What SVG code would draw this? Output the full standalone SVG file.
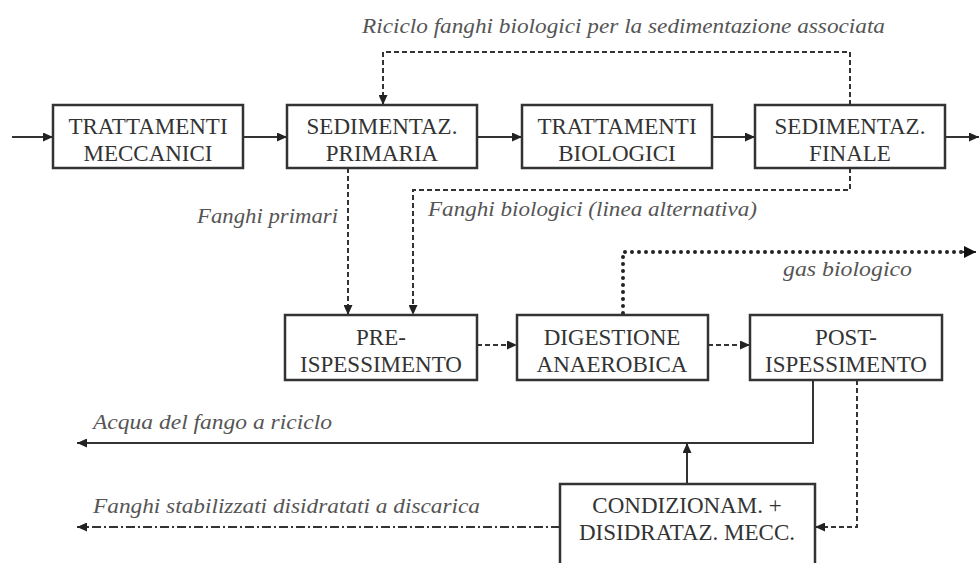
<svg xmlns="http://www.w3.org/2000/svg" width="979" height="563" viewBox="0 0 979 563">
<defs>
<style>
.box{fill:#fff;stroke:#333;stroke-width:2.5}
.bt{font-family:"Liberation Serif","Times New Roman",serif;font-size:23px;fill:#333;text-anchor:middle}
.lb{font-family:"Liberation Serif","Times New Roman",serif;font-size:22px;font-style:italic;fill:#555}
.ln{fill:none;stroke:#333;stroke-width:2}
.dash{stroke-dasharray:5 3}
.dot{stroke-width:4;stroke-linecap:round;stroke-dasharray:0 7;stroke:#222}
.dd{stroke-dasharray:9 3 2 3}
</style>
<marker id="ah" markerUnits="userSpaceOnUse" markerWidth="10" markerHeight="9" refX="10" refY="4.5" orient="auto"><path d="M0,0 L10,4.5 L0,9 z" fill="#222"/></marker>
<marker id="ahb" markerUnits="userSpaceOnUse" markerWidth="12" markerHeight="12" refX="12" refY="6" orient="auto"><path d="M0,0 L12,6 L0,12 z" fill="#111"/></marker>
</defs>
<rect width="979" height="563" fill="#fff"/>
<g id="connectors">
<path class="ln" d="M12,137 H53" marker-end="url(#ah)"/>
<path class="ln" d="M243,137 H287" marker-end="url(#ah)"/>
<path class="ln" d="M477,137 H522" marker-end="url(#ah)"/>
<path class="ln" d="M712,137 H755" marker-end="url(#ah)"/>
<path class="ln" d="M945,137 H979" marker-end="url(#ah)"/>
<path class="ln dash" d="M850,105 V52 H383 V105" marker-end="url(#ah)"/>
<path class="ln dash" d="M850,168 V190 H413 V315" marker-end="url(#ah)"/>
<path class="ln dash" d="M348,168 V315" marker-end="url(#ah)"/>
<path class="ln dash" d="M477,345 H517" marker-end="url(#ah)"/>
<path class="ln dash" d="M708,345 H750" marker-end="url(#ah)"/>
<path class="ln dot" d="M623,313 V252 H962"/>
<path class="ln" d="M960,252 H976" stroke="none" marker-end="url(#ahb)"/>
<path class="ln" d="M813,380 V443 H77" marker-end="url(#ah)"/>
<path class="ln" d="M687,484 V443" marker-end="url(#ah)"/>
<path class="ln dash" d="M857,380 V527 H815" marker-end="url(#ah)"/>
<path class="ln dd" d="M560,527 H77" marker-end="url(#ah)"/>
</g>
<g id="labels">
<text class="lb" x="362" y="33" textLength="523" lengthAdjust="spacingAndGlyphs">Riciclo fanghi biologici per la sedimentazione associata</text>
<text class="lb" x="428" y="216" textLength="329" lengthAdjust="spacingAndGlyphs">Fanghi biologici (linea alternativa)</text>
<text class="lb" x="197" y="223" textLength="141" lengthAdjust="spacingAndGlyphs">Fanghi primari</text>
<text class="lb" x="783" y="276" textLength="129" lengthAdjust="spacingAndGlyphs">gas biologico</text>
<text class="lb" x="93" y="429" textLength="239" lengthAdjust="spacingAndGlyphs">Acqua del fango a riciclo</text>
<text class="lb" x="93" y="513" textLength="387" lengthAdjust="spacingAndGlyphs">Fanghi stabilizzati disidratati a discarica</text>
</g>
<g id="n-mecc"><rect class="box" x="53" y="105" width="190" height="63"/><text class="bt" x="148" y="134">TRATTAMENTI</text><text class="bt" x="148" y="161">MECCANICI</text></g>
<g id="n-sedprim"><rect class="box" x="287" y="105" width="190" height="63"/><text class="bt" x="382" y="134">SEDIMENTAZ.</text><text class="bt" x="382" y="161">PRIMARIA</text></g>
<g id="n-bio"><rect class="box" x="522" y="105" width="190" height="63"/><text class="bt" x="617" y="134">TRATTAMENTI</text><text class="bt" x="617" y="161">BIOLOGICI</text></g>
<g id="n-sedfin"><rect class="box" x="755" y="105" width="190" height="63"/><text class="bt" x="850" y="134">SEDIMENTAZ.</text><text class="bt" x="850" y="161">FINALE</text></g>
<g id="n-pre"><rect class="box" x="285" y="315" width="192" height="65"/><text class="bt" x="381" y="345">PRE-</text><text class="bt" x="381" y="372">ISPESSIMENTO</text></g>
<g id="n-dig"><rect class="box" x="517" y="315" width="191" height="65"/><text class="bt" x="612" y="345">DIGESTIONE</text><text class="bt" x="612" y="372">ANAEROBICA</text></g>
<g id="n-post"><rect class="box" x="750" y="315" width="192" height="65"/><text class="bt" x="846" y="345">POST-</text><text class="bt" x="846" y="372">ISPESSIMENTO</text></g>
<g id="n-cond"><rect class="box" x="560" y="484" width="255" height="90"/><text class="bt" x="687" y="513">CONDIZIONAM. +</text><text class="bt" x="687" y="540">DISIDRATAZ. MECC.</text></g>
</svg>
